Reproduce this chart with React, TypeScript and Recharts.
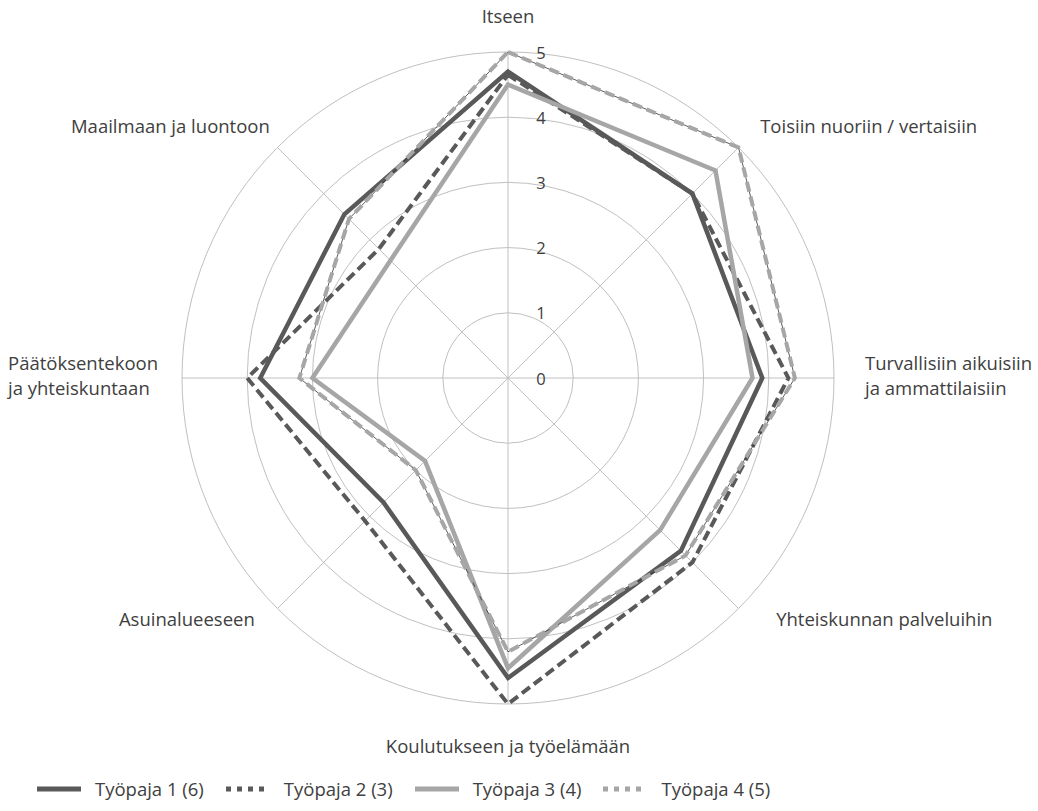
import { RadarChart, Radar, PolarGrid, PolarAngleAxis, PolarRadiusAxis, Legend } from 'recharts';

// axis categories, clockwise from the top
const categories = [
    ['Itseen'],
    ['Toisiin nuoriin / vertaisiin'],
    ['Turvallisiin aikuisiin', 'ja ammattilaisiin'],
    ['Yhteiskunnan palveluihin'],
    ['Koulutukseen ja työelämään'],
    ['Asuinalueeseen'],
    ['Päätöksentekoon', 'ja yhteiskuntaan'],
    ['Maailmaan ja luontoon'],
];

const tp1 = [4.7, 4.0, 3.9, 3.75, 4.6, 2.7, 3.8, 3.55];
const tp2 = [4.65, 4.0, 4.3, 4.0, 5.0, 3.1, 4.0, 2.8];
const tp3 = [4.5, 4.5, 3.75, 3.3, 4.45, 1.8, 3.0, 2.55];
const tp4 = [5.0, 5.0, 4.4, 3.85, 4.2, 2.0, 3.2, 3.45];

const seriesNames = ['Työpaja 1 (6)', 'Työpaja 2 (3)', 'Työpaja 3 (4)', 'Työpaja 4 (5)'];
const radiusTicks = [0, 1, 2, 3, 4, 5];

const data = categories.map((c, i) => ({
    category: c.join(' '),
    tp1: tp1[i],
    tp2: tp2[i],
    tp3: tp3[i],
    tp4: tp4[i],
}));

const DARK = '#595959';
const LIGHT = '#a6a6a6';
const FONT = '"Open Sans", sans-serif';

// label placement relative to the tick point
const labelPos = [
    { dx: 0, dy: -29, anchor: 'middle' },
    { dx: 16, dy: -17, anchor: 'start' },
    { dx: 23, dy: -16, anchor: 'start' },
    { dx: 32, dy: 4, anchor: 'start' },
    { dx: 0, dy: 33, anchor: 'middle' },
    { dx: -17, dy: 4, anchor: 'end' },
    { dx: -166, dy: -16, anchor: 'start' },
    { dx: -2, dy: -17, anchor: 'end' },
];

function AngleTick(props: any) {
    const { x, y, index } = props;
    const pos = labelPos[index];
    const lines = categories[index];
    return (
        <text x={x + pos.dx} y={y + pos.dy} textAnchor={pos.anchor} dominantBaseline="central"
            fontFamily={FONT} fontSize={18.5} fill="#404040">
            {lines.map((l, i) => (
                <tspan key={i} x={x + pos.dx} dy={i === 0 ? 0 : 25}>{l}</tspan>
            ))}
        </text>
    );
}

function RadiusTick(props: any) {
    const { x, y, payload } = props;
    return (
        <text x={x + 33} y={y} textAnchor="middle" dominantBaseline="central"
            fontFamily={FONT} fontSize={16.5} fill="#404040">{payload.value}</text>
    );
}

const legendItems = [
    { name: seriesNames[0], color: DARK, dash: undefined },
    { name: seriesNames[1], color: DARK, dash: '5 6' },
    { name: seriesNames[2], color: LIGHT, dash: undefined },
    { name: seriesNames[3], color: LIGHT, dash: '5 6' },
];

function LegendContent() {
    return (
        <div style={{ display: 'flex', alignItems: 'center', fontFamily: FONT, fontSize: 18.5, color: '#404040' }}>
            {legendItems.map((it) => (
                <div key={it.name} style={{ display: 'flex', alignItems: 'center', marginRight: 22 }}>
                    <svg width={44} height={10} style={{ marginRight: 14 }}>
                        <line x1={0} y1={5} x2={44} y2={5} stroke={it.color} strokeWidth={5} strokeDasharray={it.dash} />
                    </svg>
                    <span>{it.name}</span>
                </div>
            ))}
        </div>
    );
}

export default function App() {
    return (
        <div style={{ position: 'absolute', left: 0, top: 0, width: 1038, height: 811 }}>
            <RadarChart width={1038} height={811} data={data} cx={508} cy={378} outerRadius={326}
                margin={{ top: 0, right: 0, bottom: 0, left: 0 }}>
                <PolarGrid gridType="circle" stroke="#c0c0c0" strokeWidth={1} />
                <PolarAngleAxis dataKey="category" tick={AngleTick} tickLine={false} axisLine={false} />
                <PolarRadiusAxis angle={90} domain={[0, 5]} ticks={radiusTicks as any} tickCount={6}
                    tick={RadiusTick} axisLine={false} tickLine={false} />
                <Radar name={seriesNames[0]} dataKey="tp1" stroke={DARK} strokeWidth={4.5} fill="none"
                    dot={false} isAnimationActive={false} />
                <Radar name={seriesNames[1]} dataKey="tp2" stroke={DARK} strokeWidth={4} strokeDasharray="10 5"
                    fill="none" dot={false} isAnimationActive={false} />
                <Radar name={seriesNames[2]} dataKey="tp3" stroke={LIGHT} strokeWidth={4.5} fill="none"
                    dot={false} isAnimationActive={false} />
                <Radar name="tp4-core" dataKey="tp4" stroke="#333333" strokeWidth={0.8} fill="none"
                    dot={false} legendType="none" isAnimationActive={false} />
                <Radar name={seriesNames[3]} dataKey="tp4" stroke={LIGHT} strokeWidth={4} strokeDasharray="10 5"
                    fill="none" dot={false} isAnimationActive={false} />
                <Legend content={LegendContent} wrapperStyle={{ position: 'absolute', left: 37, top: 776, width: 'auto' }} />
            </RadarChart>
        </div>
    );
}
